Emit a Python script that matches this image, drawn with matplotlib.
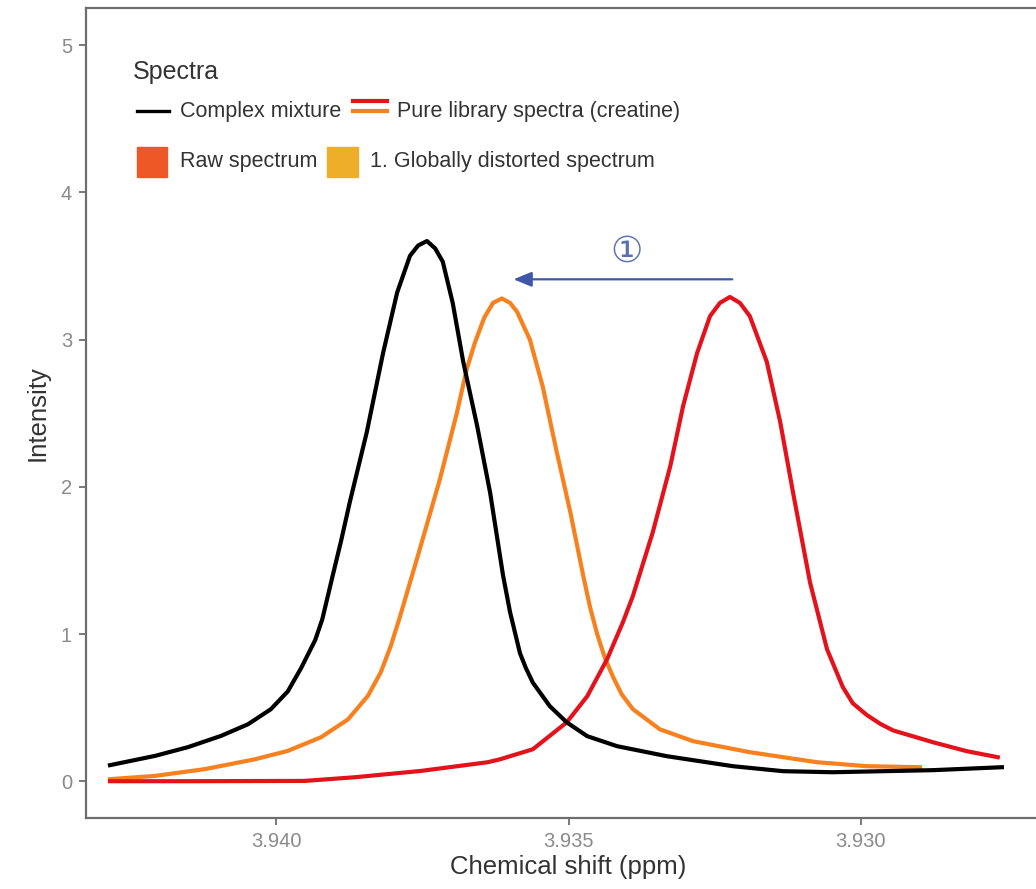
import matplotlib.pyplot as plt
from matplotlib.lines import Line2D
from matplotlib.patches import Rectangle

plt.rcParams['font.family'] = ['Liberation Sans', 'DejaVu Sans']

# chemical shift (ppm) / intensity
mix_ppm = [3.94284, 3.94207, 3.94151, 3.94094, 3.94048, 3.94009, 3.93980, 3.93957, 3.93933,
           3.93921, 3.93903, 3.93889, 3.93874, 3.93845, 3.93817, 3.93793, 3.93771, 3.93757,
           3.93742, 3.93728, 3.93715, 3.93698, 3.93680, 3.93656, 3.93634, 3.93612, 3.93600,
           3.93583, 3.93573, 3.93561, 3.93532, 3.93503, 3.93468, 3.93417, 3.93332, 3.93219,
           3.93133, 3.93048, 3.92962, 3.92877, 3.92759]
mix_int = [0.109, 0.172, 0.231, 0.308, 0.387, 0.489, 0.61, 0.77, 0.96,
           1.10, 1.40, 1.63, 1.895, 2.37, 2.91, 3.32, 3.57, 3.64,
           3.67, 3.62, 3.53, 3.25, 2.85, 2.41, 1.96, 1.40, 1.15,
           0.87, 0.77, 0.67, 0.51, 0.40, 0.306, 0.238, 0.17, 0.102,
           0.068, 0.061, 0.068, 0.075, 0.095]

dist_ppm = [3.94284, 3.94207, 3.94122, 3.94036, 3.93980, 3.93923, 3.93877, 3.93843, 3.93821,
            3.93804, 3.93788, 3.93754, 3.93720, 3.93691, 3.93674, 3.93660, 3.93644, 3.93629,
            3.93614, 3.93600, 3.93588, 3.93566, 3.93544, 3.93520, 3.93497, 3.93475, 3.93463,
            3.93451, 3.93438, 3.93424, 3.93409, 3.93390, 3.93344, 3.93287, 3.93190, 3.93075,
            3.92990, 3.92899]
dist_int = [0.014, 0.036, 0.082, 0.149, 0.206, 0.299, 0.42, 0.58, 0.74,
            0.917, 1.12, 1.58, 2.05, 2.5, 2.8, 2.98, 3.15, 3.25,
            3.28, 3.25, 3.19, 3.0, 2.68, 2.235, 1.83, 1.40, 1.18,
            1.0, 0.84, 0.71, 0.59, 0.49, 0.353, 0.272, 0.197, 0.129,
            0.102, 0.095]

raw_ppm = [3.94284, 3.94151, 3.93951, 3.93865, 3.93752, 3.93638, 3.93617, 3.93561, 3.93503,
           3.93468, 3.93434, 3.93407, 3.93390, 3.93356, 3.93326, 3.93304, 3.93280, 3.93258,
           3.93241, 3.93224, 3.93207, 3.93190, 3.93161, 3.93138, 3.93116, 3.93087, 3.93058,
           3.93031, 3.93014, 3.92990, 3.92967, 3.92945, 3.92877, 3.92819, 3.92766]
raw_int = [0.0, 0.0, 0.002, 0.027, 0.07, 0.129, 0.149, 0.217, 0.40,
           0.577, 0.829, 1.08, 1.257, 1.69, 2.14, 2.55, 2.91, 3.16,
           3.25, 3.29, 3.25, 3.16, 2.85, 2.44, 1.96, 1.35, 0.897,
           0.64, 0.53, 0.45, 0.39, 0.345, 0.265, 0.204, 0.163]

x_ticks = [3.940, 3.935, 3.930]
y_ticks = [0, 1, 2, 3, 4, 5]

W, H = 1036, 889
fig = plt.figure(figsize=(W / 100, H / 100), dpi=100)
ax = fig.add_axes([86 / W, 71 / H, 965 / W, 809.5 / H])

ax.plot(mix_ppm, mix_int, color='black', lw=3.0, solid_joinstyle='round', zorder=3)
ax.plot(dist_ppm, dist_int, color='#F7801F', lw=3.0, solid_joinstyle='round', zorder=2)
ax.plot(raw_ppm, raw_int, color='#E3121B', lw=3.0, solid_joinstyle='round', zorder=2)

# shift from raw peak to distorted peak
shift_y = 3.41
ax.annotate('', xy=(3.93594, shift_y), xytext=(3.93220, shift_y),
            arrowprops=dict(arrowstyle='-|>,head_length=1.1,head_width=0.45',
                            color='#3F57A9', lw=1.6, shrinkA=0, shrinkB=0))
ax.text(3.93400, 3.60, '\u2460', color='#5B6FB3', fontsize=26,
        ha='center', va='center', family=['DejaVu Sans'])

ax.set_xlim(3.94325, 3.92675)
ax.set_ylim(-0.25, 5.25)
ax.set_xticks(x_ticks)
ax.set_xticklabels(['%.3f' % t for t in x_ticks])
ax.set_yticks(y_ticks)

for s in ax.spines.values():
    s.set_color('#6e6e6e')
    s.set_linewidth(1.6)
ax.tick_params(colors='#6e6e6e', labelcolor='#8a8a8a', labelsize=14.5,
               length=5, width=1.3, pad=5)
ax.set_xlabel('Chemical shift (ppm)', fontsize=18.5, color='#333333', labelpad=3)
ax.set_ylabel('Intensity', fontsize=18.5, color='#333333', labelpad=8)


def fx(px):
    return px / W


def fy(py):
    return 1 - py / H


# legend block
fig.text(fx(133), fy(72), 'Spectra', fontsize=18, color='#333333', va='center')
fig.add_artist(Line2D([fx(137), fx(169)], [fy(111), fy(111)], color='black', lw=2.4))
fig.text(fx(180), fy(111), 'Complex mixture', fontsize=15.5, color='#333333', va='center')
fig.add_artist(Line2D([fx(353), fx(387)], [fy(101), fy(101)], color='#E3121B', lw=3))
fig.add_artist(Line2D([fx(353), fx(387)], [fy(111), fy(111)], color='#F7801F', lw=3))
fig.text(fx(397), fy(111), 'Pure library spectra (creatine)', fontsize=15.5,
         color='#333333', va='center')
fig.add_artist(Rectangle((fx(137), fy(177)), 30 / W, 30 / H, color='#EE5726',
                         transform=fig.transFigure))
fig.text(fx(180), fy(162), 'Raw spectrum', fontsize=15.5, color='#333333', va='center')
fig.add_artist(Rectangle((fx(327), fy(177)), 31 / W, 30 / H, color='#EFAE27',
                         transform=fig.transFigure))
fig.text(fx(370), fy(162), '1. Globally distorted spectrum', fontsize=15.5,
         color='#333333', va='center')

fig.savefig('out.png', dpi=100)
